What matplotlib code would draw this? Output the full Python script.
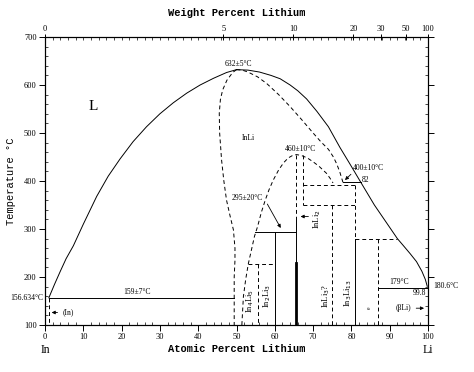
import matplotlib
matplotlib.use("Agg")
import matplotlib.pyplot as plt
import numpy as np

# liquidus (solid)
liq_left_x = [1.0, 2.5, 4.0, 5.5, 7.4, 10.0, 13.5, 16.5, 19.6, 23.0, 26.5, 30.0,
              33.5, 37.0, 40.5, 44.0, 47.4, 50.0]
liq_left_t = [156.6, 185, 212, 238, 265, 310, 368, 410, 446, 482, 513, 540,
              563, 583, 600, 614, 626, 632]
liq_right_x = [50.0, 53.0, 56.0, 59.0, 61.4, 64.0, 66.0, 68.3, 71.0, 74.0, 77.0,
               79.5, 82.4, 86.0, 89.0, 92.0, 93.5, 95.3, 97.0, 98.4, 99.3, 99.8]
liq_right_t = [632, 631, 627, 620, 613, 600, 588, 571, 545, 513, 470,
               437, 398, 350, 315, 280, 266, 249, 232, 212, 195, 180.6]

# InLi (beta) boundaries (dashed)
beta_left_x = [50.0, 49.0, 47.5, 46.4, 45.8, 45.5, 45.6, 46.1, 46.7, 47.4, 48.3,
               49.2, 49.6, 49.6, 49.4, 49.4, 49.4]
beta_left_t = [632, 626, 610, 590, 570, 541, 500, 444, 400, 360, 328,
               298, 260, 235, 200, 156.6, 100]
beta_right_x = [50.0, 51.5, 53.0, 55.5, 57.9, 61.0, 64.0, 67.0, 70.0, 72.0, 74.0,
                75.3, 76.2, 77.0, 77.8]
beta_right_t = [632, 631, 627, 617, 603, 580, 555, 528, 500, 482, 466,
                450, 435, 418, 397]

# 460 dome (dashed)
dome_x = [51.4, 51.6, 51.8, 52.4, 53.1, 54.0, 54.7, 55.5, 56.5, 57.5, 58.5, 59.6,
          61.0, 62.3, 63.5, 64.6, 65.7, 67.0, 68.5, 70.0, 71.5, 72.7, 73.5, 74.4, 75.2]
dome_t = [100, 130, 159, 195, 228, 260, 285, 305, 335, 360, 382, 402,
          423, 438, 448, 453, 455, 453, 448, 440, 431, 422, 416, 406, 396]

# horizontal invariant lines
eut_x = [1.0, 49.4]
eut_t = 156.6
peri_x = [77.8, 82.4]
peri_t = 397
li_eut_x = [87.0, 100.0]
li_eut_t = 178

# compound lines: (x, t_top, t_bottom)
solid_v = [(60.0, 294, 100), (65.6, 326, 100), (81.0, 280, 100)]
thick_v = [(65.6, 230, 100)]
dashed_v = [(1.0, 156.6, 100), (55.7, 228, 100), (65.6, 455, 326),
            (67.4, 455, 350), (75.0, 350, 100), (81.0, 392, 280), (87.0, 280, 100)]
solid_h = [(294, 54.8, 65.6)]
dashed_h = [(228, 53.1, 59.9), (392, 67.4, 81.0), (350, 67.4, 81.0), (280, 81.0, 92.0)]

# axes ticks
x_ticks = list(range(0, 101, 10))
t_ticks = list(range(100, 701, 100))
wt_ticks = [0, 5, 10, 20, 30, 50, 100]

def wt_to_at(w):
    w = np.asarray(w, dtype=float)
    a = w / 6.941
    b = (100 - w) / 114.818
    return 100 * a / (a + b)

serif = "Liberation Serif"
mono = "Liberation Mono"
lw = 0.7
dash = (0, (4, 3))

fig = plt.figure(figsize=(4.74, 3.72), dpi=100)
ax = fig.add_axes([45 / 474, 47 / 372, 383 / 474, 288 / 372])
ax.set_xlim(0, 100)
ax.set_ylim(100, 700)

ax.plot(liq_left_x, liq_left_t, color="k", lw=lw)
ax.plot(liq_right_x, liq_right_t, color="k", lw=lw)
ax.plot(beta_left_x, beta_left_t, color="k", lw=lw, ls=dash)
ax.plot(beta_right_x, beta_right_t, color="k", lw=lw, ls=dash)
ax.plot(dome_x, dome_t, color="k", lw=lw, ls=dash)
ax.plot(eut_x, [eut_t, eut_t], color="k", lw=lw)
ax.plot(peri_x, [peri_t, peri_t], color="k", lw=lw)
ax.plot(li_eut_x, [li_eut_t, li_eut_t], color="k", lw=lw)

for x, t0, t1 in solid_v:
    ax.plot([x, x], [t0, t1], color="k", lw=lw)
for x, t0, t1 in thick_v:
    ax.plot([x, x], [t0, t1], color="k", lw=2.0)
for x, t0, t1 in dashed_v:
    ax.plot([x, x], [t0, t1], color="k", lw=lw, ls=dash)
for t, x0, x1 in solid_h:
    ax.plot([x0, x1], [t, t], color="k", lw=lw)
for t, x0, x1 in dashed_h:
    ax.plot([x0, x1], [t, t], color="k", lw=lw, ls=dash)

fs = 5.5
arrow = dict(arrowstyle="-|>", lw=0.6, color="k", mutation_scale=5)
ax.text(12.6, 555, "L", fontsize=11, family=serif, ha="center", va="center")
ax.text(50.5, 636, "632±5°C", fontsize=fs, family=serif, ha="center", va="bottom")
ax.text(53.1, 489, "InLi", fontsize=fs, family=serif, ha="center", va="center")
ax.text(66.6, 458, "460±10°C", fontsize=fs, family=serif, ha="center", va="bottom")
ax.text(52.7, 364, "295±20°C", fontsize=fs, family=serif, ha="center", va="center")
ax.annotate("", xy=(61.9, 297), xytext=(57.7, 357), arrowprops=arrow)
ax.text(80.3, 428, "400±10°C", fontsize=fs, family=serif, ha="left", va="center")
ax.annotate("", xy=(77.8, 398), xytext=(80.4, 418), arrowprops=arrow)
ax.text(82.6, 402, "82", fontsize=fs, family=serif, ha="left", va="center")
ax.text(71.2, 320, "InLi$_2$", fontsize=fs + 0.5, family=serif, ha="center", va="center", rotation=90)
ax.annotate("", xy=(66.0, 326), xytext=(69.5, 326), arrowprops=arrow)
ax.text(53.6, 150, "In$_4$Li$_5$", fontsize=fs + 0.5, family=serif, ha="center", va="center", rotation=90)
ax.text(58.0, 160, "In$_2$Li$_3$", fontsize=fs + 0.5, family=serif, ha="center", va="center", rotation=90)
ax.text(73.4, 160, "InLi$_3$?", fontsize=fs + 0.5, family=serif, ha="center", va="center", rotation=90)
ax.text(79.2, 166, "In$_3$Li$_{13}$", fontsize=fs + 0.5, family=serif, ha="center", va="center", rotation=90)
ax.text(84.6, 136, "e", fontsize=4, family=serif, ha="center", va="center", rotation=90)
ax.text(23.9, 160, "159±7°C", fontsize=fs, family=serif, ha="center", va="bottom")
ax.text(92.4, 181, "179°C", fontsize=fs, family=serif, ha="center", va="bottom")
ax.text(99.5, 175, "99.8", fontsize=fs, family=serif, ha="right", va="top")
ax.text(101.5, 181, "180.6°C", fontsize=fs, family=serif, ha="left", va="center", clip_on=False)
ax.text(-0.5, 156.6, "156.634°C", fontsize=fs, family=serif, ha="right", va="center", clip_on=False)
ax.text(93.7, 135, "(βLi)", fontsize=fs, family=serif, ha="center", va="center")
ax.annotate("", xy=(99.7, 135), xytext=(96.2, 135), arrowprops=arrow)
ax.text(6.1, 126, "(In)", fontsize=fs, family=serif, ha="center", va="center")
ax.annotate("", xy=(1.0, 126), xytext=(4.0, 126), arrowprops=arrow)

# bottom / left axes
ax.set_xticks(x_ticks)
ax.set_xticks(np.arange(0, 101, 2), minor=True)
ax.set_yticks(t_ticks)
ax.set_yticks(np.arange(100, 701, 20), minor=True)
for lab in ax.get_xticklabels() + ax.get_yticklabels():
    lab.set_fontfamily(serif)
ax.tick_params(which="major", direction="out", length=4, width=0.7, labelsize=6, pad=2,
               right=True, labelright=False)
ax.tick_params(which="minor", direction="in", length=2, width=0.5, right=True)
ax.set_xlabel("Atomic Percent Lithium", fontsize=7.5, family=mono, fontweight="bold", labelpad=2)
ax.set_ylabel("Temperature °C", fontsize=7.5, family=mono)
ax.yaxis.set_label_coords(-0.075, 0.5)
for sp in ax.spines.values():
    sp.set_linewidth(0.8)

ax.text(0, -0.065, "In", transform=ax.transAxes, fontsize=8.5, family=serif,
        ha="center", va="top")
ax.text(1, -0.065, "Li", transform=ax.transAxes, fontsize=8.5, family=serif,
        ha="center", va="top")

# top axis: weight percent
ax2 = ax.twiny()
ax2.set_xlim(0, 100)
ax2.set_xticks(wt_to_at(wt_ticks))
ax2.set_xticklabels([str(w) for w in wt_ticks], fontsize=6, family=serif)
ax2.set_xticks(np.arange(0, 101, 2), minor=True)
ax2.tick_params(which="major", direction="inout", length=4, width=0.7, pad=1)
ax2.tick_params(which="minor", direction="in", length=2, width=0.5)
ax2.set_xlabel("Weight Percent Lithium", fontsize=7.5, family=mono, fontweight="bold", labelpad=6)

fig.savefig("out.png", dpi=100)
